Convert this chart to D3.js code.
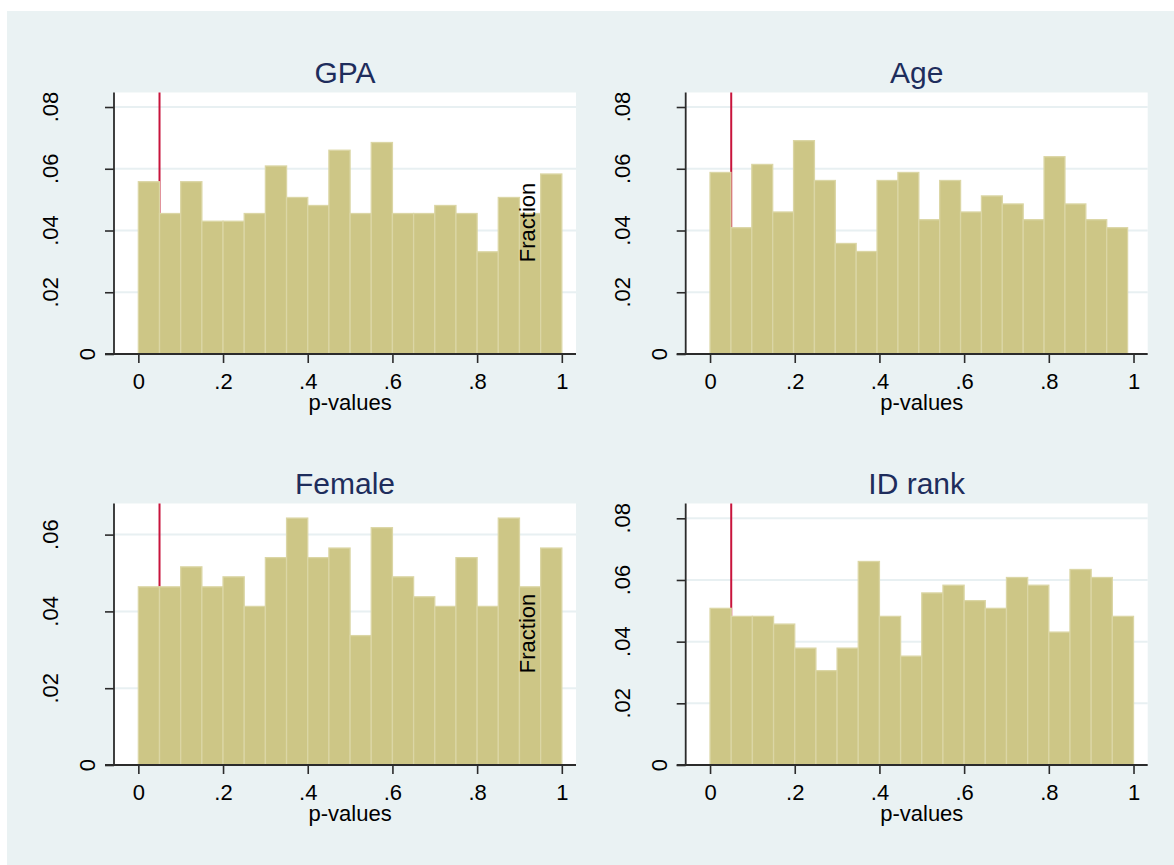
<!DOCTYPE html>
<html>
<head>
<meta charset="utf-8">
<script src="https://cdn.jsdelivr.net/npm/d3@7"></script>
<style>
  html, body { margin: 0; padding: 0; background: #ffffff; }
  svg { display: block; }
  text { font-family: "Liberation Sans", Arial, Helvetica, sans-serif; }
</style>
</head>
<body>
<svg id="chart" width="1174" height="865"></svg>
<script>
// ---------- data ----------
const panelTitles = ["GPA", "Age", "Female", "ID rank"];
const gpaFractions    = [0.0558, 0.0455, 0.0558, 0.0430, 0.0430, 0.0455, 0.0609, 0.0507, 0.0481, 0.0660,
                         0.0455, 0.0685, 0.0455, 0.0455, 0.0481, 0.0455, 0.0331, 0.0507, 0.0455, 0.0583];
const ageFractions    = [0.0588, 0.0409, 0.0614, 0.0460, 0.0691, 0.0562, 0.0358, 0.0332, 0.0562, 0.0588,
                         0.0435, 0.0562, 0.0460, 0.0512, 0.0486, 0.0435, 0.0639, 0.0486, 0.0435, 0.0409];
const femaleFractions = [0.0464, 0.0464, 0.0516, 0.0464, 0.0490, 0.0413, 0.0540, 0.0643, 0.0540, 0.0565,
                         0.0337, 0.0618, 0.0490, 0.0438, 0.0413, 0.0540, 0.0413, 0.0643, 0.0464, 0.0565];
const idRankFractions = [0.0508, 0.0482, 0.0482, 0.0457, 0.0379, 0.0306, 0.0379, 0.0660, 0.0482, 0.0353,
                         0.0558, 0.0583, 0.0533, 0.0508, 0.0608, 0.0583, 0.0431, 0.0634, 0.0608, 0.0482];
const binWidths   = [0.05, 0.0493, 0.05, 0.05];
const yMaxValues  = [0.0847, 0.0847, 0.0681, 0.0848];
const yTicksFull  = [0, 0.02, 0.04, 0.06, 0.08];
const yTicksShort = [0, 0.02, 0.04, 0.06];
const yTickLabels = ["0", ".02", ".04", ".06", ".08"];
const xTicks      = [0, 0.2, 0.4, 0.6, 0.8, 1];
const xTickLabels = ["0", ".2", ".4", ".6", ".8", "1"];
const xTitle = "p-values";
const yTitle = "Fraction";
const pCutoff = 0.05;

const seriesList = [gpaFractions, ageFractions, femaleFractions, idRankFractions];
const yTickSets  = [yTicksFull, yTicksFull, yTicksShort, yTicksFull];

// ---------- layout ----------
const W = 1174, H = 865;
const svg = d3.select("#chart");
svg.append("rect").attr("x", 0).attr("y", 0).attr("width", W).attr("height", H).attr("fill", "#ffffff");
svg.append("rect").attr("x", 7).attr("y", 11).attr("width", W - 7).attr("height", H - 11).attr("fill", "#eaf2f3");

const plotW = 462, plotH = 261.5;
const origins = [
  { x: 114,   y: 92.5 },
  { x: 685.7, y: 92.5 },
  { x: 114,   y: 503.5 },
  { x: 685.7, y: 503.5 }
];
const xDomain = [-0.0575, 1.0335];

const fillColor = "#cdc686";
const strokeColor = "#dbd6a5";
const axisColor = "#2b2b2b";
const gridColor = "#e8f0f2";
const titleColor = "#1e2d5c";
const redColor = "#c8143c";

panelTitles.forEach((title, i) => {
  const o = origins[i];
  const vals = seriesList[i];
  const bw = binWidths[i];
  const g = svg.append("g").attr("transform", `translate(${o.x},${o.y})`);

  const x = d3.scaleLinear().domain(xDomain).range([0, plotW]);
  const y = d3.scaleLinear().domain([0, yMaxValues[i]]).range([plotH, 0]);

  // plot region
  g.append("rect").attr("x", 0).attr("y", 0).attr("width", plotW).attr("height", plotH).attr("fill", "#ffffff");

  // gridlines
  g.selectAll("line.grid").data(yTickSets[i].filter(d => d > 0)).join("line")
    .attr("class", "grid")
    .attr("x1", 0).attr("x2", plotW)
    .attr("y1", d => y(d)).attr("y2", d => y(d))
    .attr("stroke", gridColor).attr("stroke-width", 2);

  // reference line at p = 0.05 (behind bars)
  g.append("line")
    .attr("x1", x(pCutoff)).attr("x2", x(pCutoff))
    .attr("y1", 0).attr("y2", plotH)
    .attr("stroke", redColor).attr("stroke-width", 2);

  // bars
  g.selectAll("rect.bar").data(vals).join("rect")
    .attr("class", "bar")
    .attr("x", (d, k) => x(k * bw))
    .attr("width", (d, k) => x((k + 1) * bw) - x(k * bw))
    .attr("y", d => y(d))
    .attr("height", d => plotH - y(d))
    .attr("fill", fillColor)
    .attr("stroke", strokeColor)
    .attr("stroke-width", 1.3);

  // y axis
  const yAxis = d3.axisLeft(y).tickValues(yTickSets[i]).tickSize(9).tickFormat("");
  const ya = g.append("g").call(yAxis);
  ya.select(".domain").remove();
  ya.selectAll(".tick line").attr("stroke", axisColor).attr("stroke-width", 1.6);
  g.append("line").attr("x1", 0).attr("x2", 0).attr("y1", 0).attr("y2", plotH)
    .attr("stroke", axisColor).attr("stroke-width", 1.8);

  // y tick labels (rotated)
  yTickSets[i].forEach((v, k) => {
    const t = g.append("text")
      .attr("font-size", 22)
      .attr("fill", "#000")
      .attr("text-anchor", "middle")
      .text(yTickLabels[k]);
    const w = t.node().getComputedTextLength();
    const cx = -2.5 - 2 * w;
    const bx = cx + 7.9;
    t.attr("transform", `translate(${bx},${y(v)}) rotate(-90)`);
  });

  // x axis
  const xAxis = d3.axisBottom(x).tickValues(xTicks).tickSize(9).tickFormat((d, k) => xTickLabels[k]);
  const xa = g.append("g").attr("transform", `translate(0,${plotH})`).call(xAxis);
  xa.select(".domain").remove();
  xa.selectAll(".tick line").attr("stroke", axisColor).attr("stroke-width", 1.6);
  xa.selectAll(".tick text")
    .attr("font-size", 22).attr("fill", "#000")
    .attr("font-family", "Liberation Sans, Arial, sans-serif")
    .attr("dy", null).attr("y", 34.5);
  g.append("line").attr("x1", -9).attr("x2", plotW).attr("y1", plotH).attr("y2", plotH)
    .attr("stroke", axisColor).attr("stroke-width", 1.8);

  // x title
  g.append("text")
    .attr("x", x(0.5)).attr("y", plotH + 55.5)
    .attr("text-anchor", "middle").attr("font-size", 22).attr("fill", "#000")
    .text(xTitle);

  // panel title
  g.append("text")
    .attr("x", plotW / 2).attr("y", -9.5)
    .attr("text-anchor", "middle").attr("font-size", 30).attr("fill", titleColor)
    .text(title);
});

// stray y-axis titles of the right-hand panels (as in the reference)
[origins[0], origins[2]].forEach(o => {
  svg.append("text")
    .attr("transform", `translate(${535},${o.y + 130}) rotate(-90)`)
    .attr("text-anchor", "middle").attr("font-size", 22).attr("fill", "#000")
    .text(yTitle);
});
</script>
</body>
</html>
